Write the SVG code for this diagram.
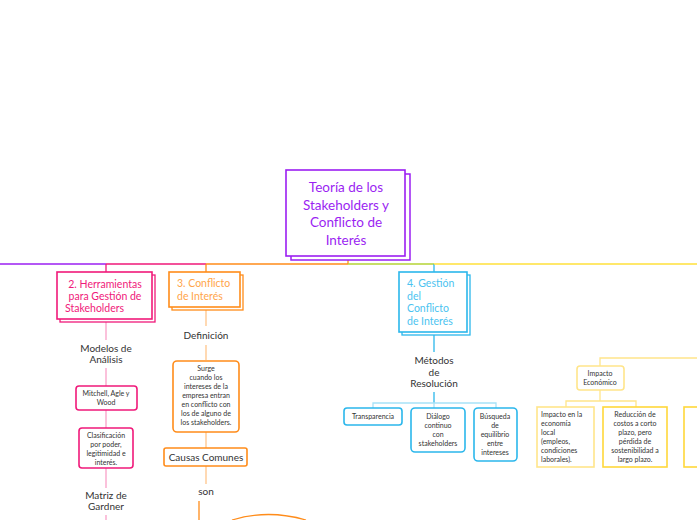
<svg xmlns="http://www.w3.org/2000/svg" width="697" height="520" viewBox="0 0 697 520">
<style>
text{font-family:Lato,"Noto Sans",sans-serif;text-anchor:middle}
.t{font-size:10px;fill:#333}
.s{font-size:7px;fill:#333}
.h{font-size:10.5px}
.b{fill:#fff;stroke-width:1.6}
</style>
<rect width="697" height="520" fill="#fff"/>
<g id="connectors" fill="none" stroke-width="1.3">
<path d="M0 264H106" stroke="#9b1ff2"/>
<path d="M106 264H206M106 264V272" stroke="#f0197a"/>
<path d="M206 264H348M206 264V272" stroke="#ff8c1a"/>
<path d="M348 257V264" stroke="#ff8c1a"/>
<path d="M348 264H434" stroke="#b5d334"/>
<path d="M434 264V272" stroke="#2bb7ec"/>
<path d="M434 264H697" stroke="#ffe03a"/>
<path d="M106 320V340M106 368V386M106 410V428M106 468V488M106 515V520" stroke="#f9a0c8"/>
<path d="M206 308V326M206 345V360M206 432V448" stroke="#ffc58a"/>
<path d="M206 466V484" stroke="#ffc58a"/>
<path d="M199 501V520" stroke="#ff8c1a"/>
<path d="M232 520Q268 509 306 520" stroke="#ff8c1a"/>
<path d="M434 332V352M434 392V403" stroke="#2bb7ec"/>
<path d="M373 408V403H496V408M434 403V408" stroke="#a8e2f7"/>
<path d="M600 366V358H697" stroke="#ffe58a"/>
<path d="M600 390V401M566 407V401H636V407" stroke="#ffe58a"/>
</g>
<g id="root">
<rect x="291" y="174" width="119" height="86" fill="#fff" stroke="#9b1ff2" stroke-width="1.5"/>
<rect x="286" y="170" width="119" height="86" class="b" stroke="#9b1ff2"/>
<text x="346" y="192" font-size="13.5" fill="#9b1ff2">Teoría de los</text>
<text x="346" y="210" font-size="13.5" fill="#9b1ff2">Stakeholders y</text>
<text x="346" y="227" font-size="13.5" fill="#9b1ff2">Conflicto de</text>
<text x="346" y="245" font-size="13.5" fill="#9b1ff2">Interés</text>
</g>
<g id="n2">
<rect x="60" y="275" width="95" height="47" fill="#fff" stroke="#f0197a" stroke-width="1.3"/>
<rect x="57" y="272" width="95" height="47" class="b" stroke="#f0197a"/>
<text x="105" y="288" class="h" fill="#f0197a">2. Herramientas</text>
<text x="105" y="300" class="h" fill="#f0197a">para Gestión de</text>
<text x="65" y="312" class="h" fill="#f0197a" style="text-anchor:start">Stakeholders</text>
</g>
<g id="n3">
<rect x="172" y="275" width="71" height="35" fill="#fff" stroke="#ff8c1a" stroke-width="1.3"/>
<rect x="169" y="272" width="71" height="35" class="b" stroke="#ff8c1a"/>
<text x="177" y="287" class="h" fill="#ffa54a" style="text-anchor:start">3. Conflicto</text>
<text x="177" y="300" class="h" fill="#ffa54a" style="text-anchor:start">de Interés</text>
</g>
<g id="n4">
<rect x="402" y="275" width="68" height="60" fill="#fff" stroke="#2bb7ec" stroke-width="1.3"/>
<rect x="399" y="272" width="68" height="60" class="b" stroke="#2bb7ec"/>
<g class="h" fill="#4bc3f0">
<text x="407" y="287" style="text-anchor:start">4. Gestión</text>
<text x="407" y="300" style="text-anchor:start">del</text>
<text x="407" y="312" style="text-anchor:start">Conflicto</text>
<text x="407" y="325" style="text-anchor:start">de Interés</text>
</g>
</g>
<g id="modelos"><text x="106" y="352" class="t">Modelos de</text><text x="106" y="363" class="t">Análisis</text></g>
<g id="mitchell"><rect x="76" y="386" width="61" height="24" rx="3" class="b" stroke="#f0197a"/><text x="106" y="396" class="s">Mitchell, Agle y</text><text x="106" y="405" class="s">Wood</text></g>
<g id="clasif"><rect x="79" y="428" width="54" height="40" rx="3" class="b" stroke="#f0197a"/><text x="106" y="438" class="s">Clasificación</text><text x="106" y="447" class="s">por poder,</text><text x="106" y="456" class="s">legitimidad e</text><text x="106" y="465" class="s">interés.</text></g>
<g id="matriz"><text x="106" y="499" class="t">Matriz de</text><text x="106" y="510" class="t">Gardner</text></g>
<g id="definicion"><text x="206" y="339" class="t">Definición</text></g>
<g id="surge"><rect x="173" y="361" width="66" height="71" rx="4" class="b" stroke="#ff8c1a"/>
<text x="206" y="371" class="s">Surge</text><text x="206" y="380" class="s">cuando los</text><text x="206" y="389" class="s">intereses de la</text><text x="206" y="398" class="s">empresa entran</text><text x="206" y="407" class="s">en conflicto con</text><text x="206" y="416" class="s">los de alguno de</text><text x="206" y="425" class="s">los stakeholders.</text></g>
<g id="causas"><rect x="164" y="448" width="83" height="18" rx="2" class="b" stroke="#ff8c1a"/><text x="206" y="461" class="t">Causas Comunes</text></g>
<g id="son"><text x="206" y="495" class="t">son</text></g>
<g id="metodos"><text x="434" y="364" class="t">Métodos</text><text x="434" y="376" class="t">de</text><text x="434" y="387" class="t">Resolución</text></g>
<g id="transp"><rect x="344" y="408" width="58" height="17" rx="3" class="b" stroke="#2bb7ec"/><text x="373" y="419" class="s">Transparencia</text></g>
<g id="dialogo"><rect x="411" y="408" width="54" height="44" rx="4" class="b" stroke="#2bb7ec"/><text x="438" y="419" class="s">Diálogo</text><text x="438" y="428" class="s">continuo</text><text x="438" y="437" class="s">con</text><text x="438" y="446" class="s">stakeholders</text></g>
<g id="busqueda"><rect x="474" y="408" width="43" height="53" rx="4" class="b" stroke="#2bb7ec"/><text x="495" y="419" class="s">Búsqueda</text><text x="495" y="428" class="s">de</text><text x="495" y="437" class="s">equilibrio</text><text x="495" y="446" class="s">entre</text><text x="495" y="455" class="s">intereses</text></g>
<g id="impacto"><rect x="577" y="366" width="47" height="24" rx="3" class="b" stroke="#ffe58a"/><text x="600" y="376" class="s">Impacto</text><text x="600" y="385" class="s">Económico</text></g>
<g id="local"><rect x="537" y="407" width="57" height="60" class="b" stroke="#ffe58a"/>
<g class="s"><text x="541" y="417" style="text-anchor:start">Impacto en la</text><text x="541" y="426" style="text-anchor:start">economía</text><text x="541" y="435" style="text-anchor:start">local</text><text x="541" y="444" style="text-anchor:start">(empleos,</text><text x="541" y="453" style="text-anchor:start">condiciones</text><text x="541" y="462" style="text-anchor:start">laborales).</text></g></g>
<g id="reduccion"><rect x="603" y="407" width="64" height="60" class="b" stroke="#ffd83a"/>
<text x="635" y="417" class="s">Reducción de</text><text x="635" y="426" class="s">costos a corto</text><text x="635" y="435" class="s">plazo, pero</text><text x="635" y="444" class="s">pérdida de</text><text x="635" y="453" class="s">sostenibilidad a</text><text x="635" y="462" class="s">largo plazo.</text></g>
<g id="partial"><rect x="684" y="407" width="30" height="60" class="b" stroke="#ffd83a"/></g>
</svg>
